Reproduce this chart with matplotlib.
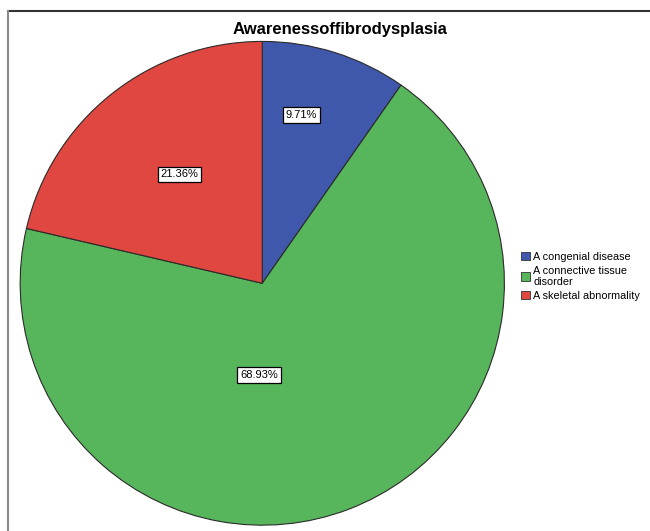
import numpy as np
import matplotlib
matplotlib.use("Agg")
import matplotlib.pyplot as plt
from matplotlib.lines import Line2D
from matplotlib.patches import Patch

plt.rcParams['font.family'] = ['Liberation Sans', 'DejaVu Sans']

# Survey responses
categories = ["A congenial disease", "A connective tissue\ndisorder", "A skeletal abnormality"]
percentages = [9.71, 68.93, 21.36]
colors = ["#3f58ab", "#57b65c", "#df4740"]
title = "Awarenessoffibrodysplasia"

# label placement: (radius fraction, angle in degrees) per wedge
label_pos = [(0.713, 77.0), (0.38, -92.0), (0.565, 127.1)]

fig = plt.figure(figsize=(6.5, 5.31), dpi=100)
ax = fig.add_axes([0.031, 0.011, 0.745, 0.911])
ax.pie(percentages, colors=colors, startangle=90, counterclock=False,
       radius=1.0, wedgeprops=dict(edgecolor="#2a2a2a", linewidth=0.8))
ax.set_xlim(-1, 1)
ax.set_ylim(-1, 1)
ax.set_aspect('auto')
ax.axis('off')

for pct, (r, ang) in zip(percentages, label_pos):
    a = np.deg2rad(ang)
    ax.text(r * np.cos(a), r * np.sin(a), f"{pct:.2f}%", ha='center', va='center',
            fontsize=8, color='black',
            bbox=dict(boxstyle='square,pad=0.25', facecolor='white',
                      edgecolor='black', linewidth=0.9))

fig.text(0.523, 0.944, title, ha='center', va='center', fontsize=12, fontweight='bold')

handles = [Patch(facecolor=c, edgecolor='#333333', linewidth=0.6) for c in colors]
fig.legend(handles, categories, loc='upper left', bbox_to_anchor=(0.795, 0.534),
           frameon=False, fontsize=7.8, handlelength=0.8, handleheight=0.8,
           handletextpad=0.3, labelspacing=0.35, borderaxespad=0)

# frame lines along the top and left of the figure
fig.add_artist(Line2D([8 / 650, 1.0], [1 - 11 / 531, 1 - 11 / 531],
                      transform=fig.transFigure, color='#333333', linewidth=1.5))
fig.add_artist(Line2D([8 / 650, 8 / 650], [0.0, 1 - 11 / 531],
                      transform=fig.transFigure, color='#8a8a8a', linewidth=1.5))

fig.savefig("out.png", dpi=100)
